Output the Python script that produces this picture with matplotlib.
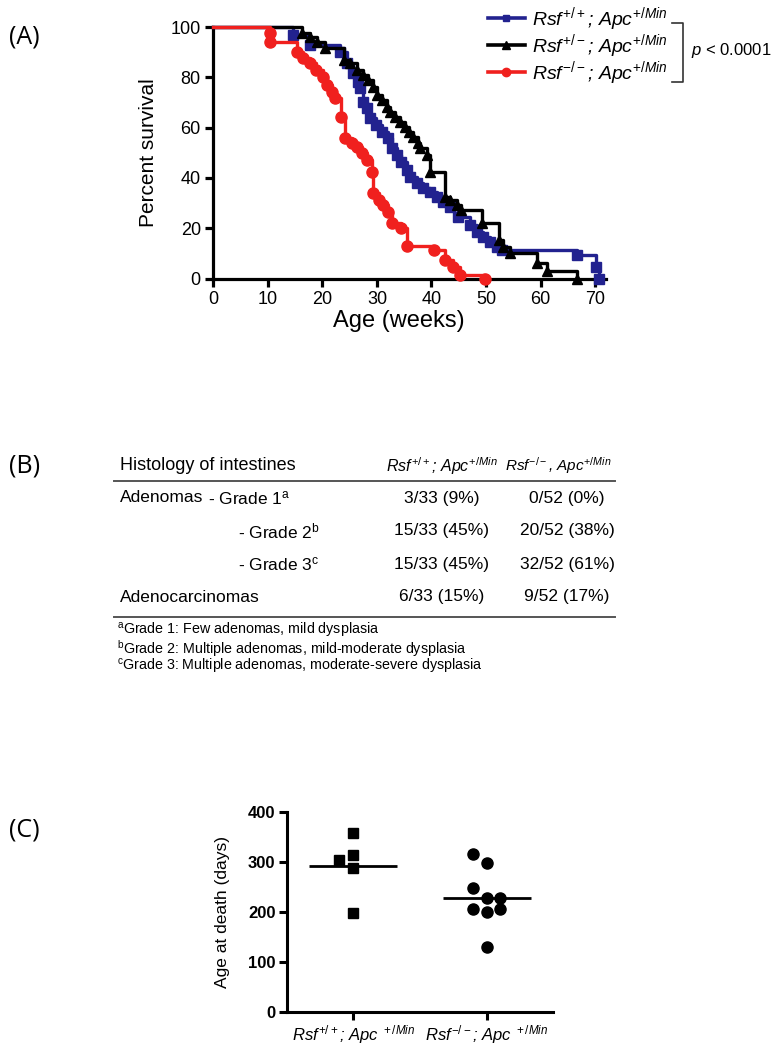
import numpy as np
import matplotlib
matplotlib.use("Agg")
import matplotlib.pyplot as plt
from matplotlib.lines import Line2D

plt.rcParams['font.family'] = ['Liberation Sans', 'DejaVu Sans']
plt.rcParams['mathtext.fontset'] = 'custom'
plt.rcParams['mathtext.rm'] = 'Liberation Sans'
plt.rcParams['mathtext.it'] = 'Liberation Sans:italic'
plt.rcParams['mathtext.bf'] = 'Liberation Sans:bold'

# ---- (A) survival curves: weeks / percent surviving
wt_weeks = [14.7, 17.7, 23.2, 24.5, 25.7, 26.6, 26.9, 27.5, 28.1, 28.7, 29.9, 30.9,
            32.1, 32.7, 33.6, 34.5, 35.5, 36.1, 37.3, 38.5, 39.7, 41.0, 42.2, 43.4,
            44.9, 47.1, 48.3, 49.5, 50.8, 52.0, 52.9, 66.6, 70.2, 70.8]
wt_surv = [96.8, 92.9, 90.2, 85.6, 81.6, 78.3, 75.6, 70.3, 67.7, 63.7, 61.1, 58.4,
           55.7, 51.8, 49.1, 46.4, 43.1, 40.5, 37.8, 35.8, 34.5, 32.5, 30.5, 28.5,
           24.6, 21.3, 18.6, 16.6, 14.6, 12.6, 11.5, 9.4, 4.7, 0.0]

het_weeks = [16.2, 17.7, 19.0, 20.5, 23.9, 25.1, 26.3, 27.5, 28.4, 29.3, 30.0, 30.9,
             31.8, 32.4, 33.3, 34.2, 35.2, 35.8, 36.7, 37.6, 37.9, 39.1, 39.7, 42.5,
             43.4, 44.6, 45.5, 49.2, 52.3, 53.2, 54.4, 59.3, 61.1, 66.6]
het_surv = [97.5, 96.2, 94.2, 91.5, 86.9, 85.6, 82.9, 80.9, 78.9, 76.3, 72.9, 70.9,
            68.3, 66.3, 64.4, 62.4, 60.4, 58.4, 56.4, 53.7, 51.8, 49.1, 42.5, 32.5,
            31.2, 29.2, 27.2, 21.9, 15.3, 12.6, 10.0, 6.0, 2.8, 0.0]

ko_weeks = [10.4, 10.4, 15.3, 16.5, 17.7, 18.9, 20.2, 20.8, 21.7, 22.3, 23.5, 24.2,
            25.4, 26.3, 27.2, 28.1, 29.05, 29.3, 30.3, 31.2, 32.1, 32.7, 34.5, 35.5,
            40.4, 42.5, 44.0, 45.2, 49.8]
ko_surv = [97.5, 94.2, 90.2, 87.5, 85.6, 82.9, 80.2, 77.0, 74.3, 71.7, 64.4, 55.7,
           53.7, 52.4, 49.8, 47.1, 42.5, 33.8, 31.2, 29.2, 26.6, 22.0, 20.0, 12.8,
           11.4, 7.4, 4.7, 1.4, 0.0]

x_ticks_a = [0, 10, 20, 30, 40, 50, 60, 70]
y_ticks_a = [0, 20, 40, 60, 80, 100]

legend_labels = [r'$Rsf^{+/+}$; $Apc^{+/Min}$',
                 r'$Rsf^{+/-}$; $Apc^{+/Min}$',
                 r'$Rsf^{-/-}$; $Apc^{+/Min}$']

# ---- (B) histology table
table_header = ['Histology of intestines',
                r'$Rsf^{+/+}$; $Apc^{+/Min}$',
                r'$Rsf^{-/-}$, $Apc^{+/Min}$']
row_groups = ['Adenomas', '', '', 'Adenocarcinomas']
row_grades = [r'- Grade 1$^{\rm a}$', r'- Grade 2$^{\rm b}$', r'- Grade 3$^{\rm c}$', '']
wt_counts = ['3/33 (9%)', '15/33 (45%)', '15/33 (45%)', '6/33 (15%)']
ko_counts = ['0/52 (0%)', '20/52 (38%)', '32/52 (61%)', '9/52 (17%)']
footnotes = [r'$^{\rm a}$Grade 1: Few adenomas, mild dysplasia',
             r'$^{\rm b}$Grade 2: Multiple adenomas, mild-moderate dysplasia',
             r'$^{\rm c}$Grade 3: Multiple adenomas, moderate-severe dysplasia']

# ---- (C) age at death (days)
wt_death = [358, 315, 304, 288, 198]
wt_jitter = [0, 0, -0.11, 0, 0]
ko_death = [317, 298, 248, 228, 228, 207, 207, 200, 130]
ko_jitter = [-0.1, 0, -0.1, 0, 0.1, -0.1, 0.1, 0, 0]
c_labels = [r'$Rsf^{+/+}$; $Apc^{\ +/Min}$', r'$Rsf^{-/-}$; $Apc^{\ +/Min}$']

BLUE = '#22228f'
RED = '#f0201e'
W, H = 776, 1049


def fx(px):
    return px / W


def fy(py):
    return 1 - py / H


fig = plt.figure(figsize=(W / 100, H / 100), dpi=100)
label_font = ['Open Sans', 'DejaVu Sans']

# ================= (A)
ax = fig.add_axes([fx(213.3), fy(278.5), (606 - 213.3) / W, (278.5 - 27) / H])

groups = [(wt_weeks, wt_surv, BLUE, 's', 6.5),
          (het_weeks, het_surv, 'black', '^', 7.5),
          (ko_weeks, ko_surv, RED, 'o', 8)]
for z, (t, s, col, mk, ms) in enumerate(groups):
    ax.step([0] + t, [100] + s, where='post', color=col, lw=2.4,
            clip_on=False, zorder=3 + z)
    ax.plot(t, s, ls='none', marker=mk, ms=ms, color=col, clip_on=False, zorder=3 + z)

ax.set_xlim(0, 72)
ax.set_ylim(0, 100)
ax.set_xticks(x_ticks_a)
ax.set_yticks(y_ticks_a)
for sp in ['top', 'right']:
    ax.spines[sp].set_visible(False)
for sp in ['left', 'bottom']:
    ax.spines[sp].set_linewidth(2.3)
ax.tick_params(width=2.3, length=6, labelsize=13, pad=3)
ax.set_ylabel('Percent survival', fontsize=15)
ax.yaxis.set_label_coords(-0.14, 0.5)
ax.set_xlabel('Age (weeks)', fontsize=17)
ax.xaxis.set_label_coords(0.473, -0.125)

handles = [Line2D([], [], color=c, marker=m, ms=ms * 0.75, lw=2.6)
           for (_, _, c, m, ms) in groups]
fig.legend(handles, legend_labels, loc='upper left',
           bbox_to_anchor=(fx(488), fy(5)), frameon=False,
           handlelength=1.9, handletextpad=0.35, labelspacing=-0.05,
           borderpad=0, borderaxespad=0, prop={'style': 'italic', 'size': 14})

# bracket + p value
fig.add_artist(Line2D([fx(672), fx(683), fx(683), fx(672)],
                      [fy(23), fy(23), fy(82), fy(82)], color='#333333', lw=1.2))
fig.text(fx(691), fy(50), r'$p$ < 0.0001', fontsize=12, va='center', ha='left')

fig.text(fx(9), fy(37), '(A)', fontsize=18, family=label_font, va='center', ha='left')

# ================= (B)
fig.text(fx(9), fy(466), '(B)', fontsize=18, family=label_font, va='center', ha='left')

col_left = 120
col_wt = 442
col_ko = 567
fig.text(fx(col_left), fy(466), table_header[0], fontsize=13, va='center', ha='left')
fig.text(fx(col_wt), fy(466), table_header[1], fontsize=11.5, va='center',
         ha='center', style='italic')
fig.text(fx(612), fy(466), table_header[2], fontsize=11, va='center',
         ha='right', style='italic')
fig.add_artist(Line2D([fx(114), fx(615)], [fy(481), fy(481)], color='#555555', lw=1.4))

row_y = [498, 531, 564, 597]
grade_x = [208, 238, 238, 238]
for i in range(len(row_y)):
    if row_groups[i]:
        fig.text(fx(col_left), fy(row_y[i]), row_groups[i], fontsize=12.5, va='center', ha='left')
    if row_grades[i]:
        fig.text(fx(grade_x[i]), fy(row_y[i]), row_grades[i], fontsize=12.5, va='center', ha='left')
    fig.text(fx(col_wt), fy(row_y[i]), wt_counts[i], fontsize=12.5, va='center', ha='center')
    fig.text(fx(col_ko), fy(row_y[i]), ko_counts[i], fontsize=12.5, va='center', ha='center')

fig.add_artist(Line2D([fx(114), fx(615)], [fy(617), fy(617)], color='#555555', lw=1.4))
for i, note in enumerate(footnotes):
    fig.text(fx(117), fy(631 + 18 * i), note, fontsize=10.3, va='center', ha='left')

# ================= (C)
fig.text(fx(9), fy(830), '(C)', fontsize=18, family=label_font, va='center', ha='left')

axc = fig.add_axes([fx(286.7), fy(1012.3), (553.4 - 286.7) / W, 200 / H])
axc.plot(1 + np.array(wt_jitter), wt_death, ls='none', marker='s', ms=7.5,
         color='black', clip_on=False)
axc.plot(2 + np.array(ko_jitter), ko_death, ls='none', marker='o', ms=8,
         color='black', clip_on=False)
for pos, vals in [(1, wt_death), (2, ko_death)]:
    axc.hlines(np.mean(vals), pos - 0.33, pos + 0.33, color='black', lw=2)

axc.set_xlim(0.5, 2.5)
axc.set_ylim(0, 400)
axc.set_yticks([0, 100, 200, 300, 400])
axc.set_xticks([1, 2])
axc.set_xticklabels(c_labels, style='italic', fontsize=12)
for lbl in axc.get_yticklabels():
    lbl.set_fontweight('bold')
for sp in ['top', 'right']:
    axc.spines[sp].set_visible(False)
for sp in ['left', 'bottom']:
    axc.spines[sp].set_linewidth(2.2)
axc.tick_params(width=2.2, length=6, pad=2)
axc.tick_params(axis='y', labelsize=12)
axc.set_ylabel('Age at death (days)', fontsize=12.5)
axc.yaxis.set_label_coords(-0.2125, 0.5)

fig.savefig('out.png', dpi=100)
